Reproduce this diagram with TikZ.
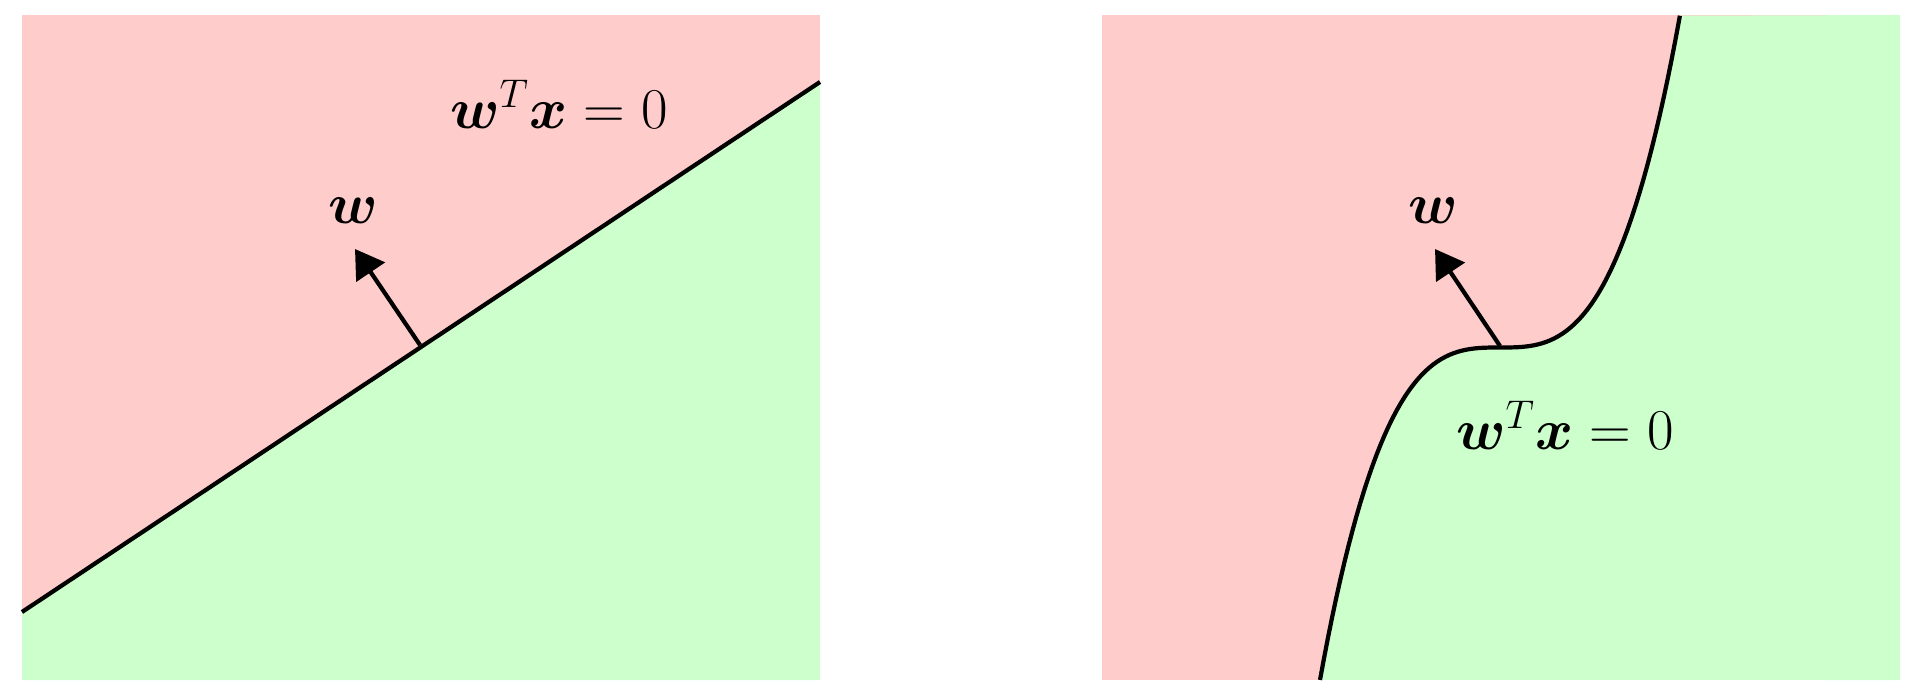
\documentclass[tikz,border=0pt]{standalone}
\usepackage{amsmath,bm}
\usetikzlibrary{arrows.meta,calc}
\definecolor{HalfRed}{RGB}{255,204,204}
\definecolor{HalfGreen}{RGB}{204,255,204}

\begin{document}
\begin{tikzpicture}[x=1cm,y=1cm,>={Triangle[length=2.8mm,width=3.4mm]},
    lbl/.style={font=\LARGE,scale=0.95,transform shape}]
      \useasboundingbox (0,0) rectangle (19.17,6.95);
      \fill[HalfRed] (0.22,0.15) rectangle (8.20,6.80);
      \fill[HalfGreen] (0.22,0.15)--(0.22,0.83)--(8.20,6.13)--(8.20,0.15)--cycle;
      \coordinate (lA) at (0.22,0.83);
      \coordinate (lB) at (8.20,6.13);
      \coordinate (lC) at (4.20,3.50);
      \coordinate (lT) at (3.55,4.46);
      \draw[very thick] (lA)--(lB);
      \draw[very thick,->] (lC)--(lT);
      \node[lbl] (lw) at (3.53,4.84) {$\bm{w}$};
      \node[lbl] (leq) at (5.59,5.91) {$\bm{w}^T\bm{x}=0$};
      \fill[HalfRed] (11.02,0.15) rectangle (19.00,6.80);
      \fill[HalfGreen] plot[domain=-1.8:1.8,samples=90] ({15.00+\x},{3.475+0.57*\x*\x*\x})
        --(19.00,6.80)--(19.00,0.15)--cycle;
      \draw[very thick] plot[domain=-1.8:1.8,samples=90] ({15.00+\x},{3.475+0.57*\x*\x*\x});
      \coordinate (rC) at (15.00,3.49);
      \coordinate (rT) at (14.35,4.46);
      \draw[very thick,->] (rC)--(rT);
      \node[lbl] (rw) at (14.33,4.84) {$\bm{w}$};
      \node[lbl] (req) at (15.65,2.70) {$\bm{w}^T\bm{x}=0$};
    \end{tikzpicture}
\end{document}
